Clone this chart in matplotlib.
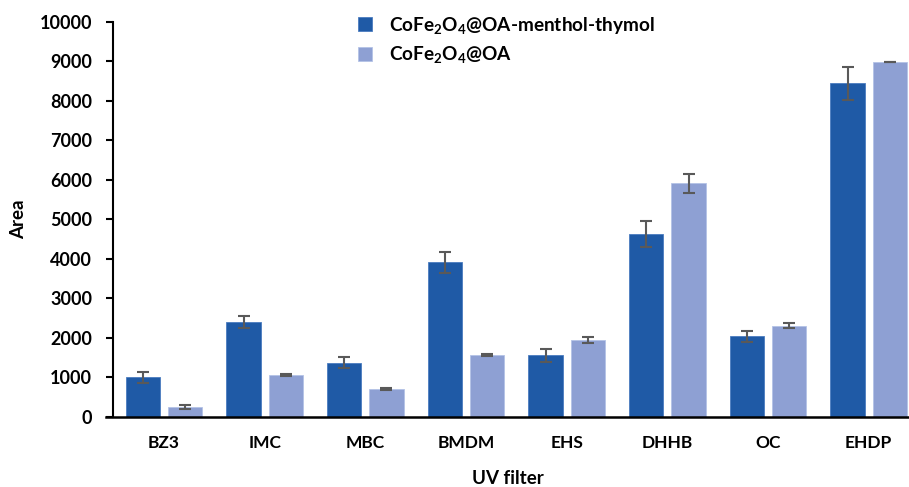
import numpy as np
import matplotlib
matplotlib.use('Agg')
from matplotlib import pyplot as plt

filters = ['BZ3', 'IMC', 'MBC', 'BMDM', 'EHS', 'DHHB', 'OC', 'EHDP']
area_mt = [1000, 2410, 1370, 3910, 1560, 4630, 2040, 8450]
err_mt = [130, 150, 140, 270, 160, 330, 140, 420]
area_oa = [250, 1070, 710, 1560, 1940, 5910, 2310, 8985]
err_oa = [40, 25, 20, 20, 80, 250, 60, 10]
labels = ['CoFe$_2$O$_4$@OA-menthol-thymol', 'CoFe$_2$O$_4$@OA']

plt.rcParams['font.family'] = ['Lato', 'DejaVu Sans']
plt.rcParams['font.weight'] = 'bold'
plt.rcParams['mathtext.fontset'] = 'custom'
plt.rcParams['mathtext.rm'] = 'Lato:bold'
plt.rcParams['mathtext.it'] = 'Lato:bold'
plt.rcParams['mathtext.bf'] = 'Lato:bold'

dark = '#1f5aa6'
light = '#8ea0d3'

fig = plt.figure(figsize=(9.09, 4.87), dpi=100)
ax = fig.add_axes([0.1166, 0.144, 0.8834, 0.811])

x = np.arange(len(filters))
w = 0.34
off = 0.21
ekw = dict(ecolor='#595959', elinewidth=1.5, capsize=4, capthick=1.5)
b1 = ax.bar(x - off, area_mt, w, color=dark, edgecolor='#4b7cc0', linewidth=0.6,
            yerr=err_mt, error_kw=ekw, label=labels[0])
b2 = ax.bar(x + off, area_oa, w, color=light, edgecolor='#b4c2e6', linewidth=0.6,
            yerr=err_oa, error_kw=ekw, label=labels[1])

ax.set_xlim(-0.576, 7.40)
ax.set_ylim(0, 10000)
ax.set_yticks(np.arange(0, 10001, 1000))
ax.set_xticks(x)
ax.set_xticklabels(filters, fontsize=12.5, fontweight='bold')
ax.tick_params(axis='x', length=0, pad=13)
ax.tick_params(axis='y', labelsize=13, width=1.5, length=5, pad=10)
ax.spines['top'].set_visible(False)
ax.spines['right'].set_visible(False)
ax.spines['left'].set_position(('data', -0.506))
ax.spines['left'].set_linewidth(1.5)
ax.spines['bottom'].set_linewidth(1.8)

ax.set_ylabel('Area', fontsize=13.5, fontweight='bold', labelpad=9)
ax.set_xlabel('UV filter', fontsize=13.5, fontweight='bold', labelpad=14)

fig.legend(handles=[b1, b2], labels=labels, loc='upper left',
           bbox_to_anchor=(0.385, 0.985), frameon=False, fontsize=13.7,
           handlelength=0.75, handleheight=0.75, handletextpad=0.9,
           labelspacing=0.45, borderaxespad=0)

fig.savefig('out.png', dpi=100)
